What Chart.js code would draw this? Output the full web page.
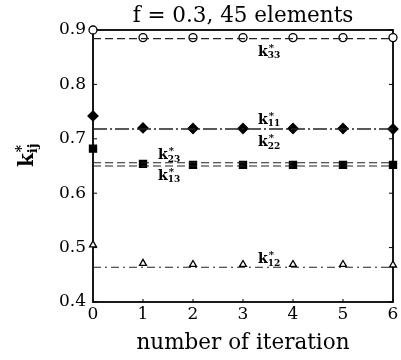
<!DOCTYPE html>
<html><head><meta charset="utf-8">
<script src="https://cdn.jsdelivr.net/npm/chart.js@4.4.1/dist/chart.umd.min.js"></script>
<style>html,body{margin:0;padding:0;background:#fff}#wrap{width:401px;height:360px}</style>
</head><body><div id="wrap"><canvas id="c" width="401" height="360"></canvas></div>
<script>
// ---- data ----
const iterations = [0, 1, 2, 3, 4, 5, 6];
const k33 = [0.900, 0.886, 0.886, 0.886, 0.886, 0.886, 0.886];
const k11 = [0.742, 0.720, 0.719, 0.719, 0.719, 0.719, 0.718];
const k23 = [0.682, 0.654, 0.652, 0.652, 0.652, 0.652, 0.652];
const k12 = [0.505, 0.471, 0.469, 0.469, 0.469, 0.469, 0.468];
// converged (reference) values drawn as horizontal lines
const k33Final = [0.884, 0.884, 0.884, 0.884, 0.884, 0.884, 0.884];
const k11Final = [0.718, 0.718, 0.718, 0.718, 0.718, 0.718, 0.718];
const k23Final = [0.656, 0.656, 0.656, 0.656, 0.656, 0.656, 0.656];
const k13Final = [0.650, 0.650, 0.650, 0.650, 0.650, 0.650, 0.650];
const k12Final = [0.464, 0.464, 0.464, 0.464, 0.464, 0.464, 0.464];
const yTicks = [0.4, 0.5, 0.6, 0.7, 0.8, 0.9];
const xTicks = [0, 1, 2, 3, 4, 5, 6];
const titleText = "f = 0.3, 45 elements";
const xTitle = "number of iteration";
// curve labels: [subscript, x, y]
const curveLabels = [["33", 3.3, 0.853], ["11", 3.3, 0.728], ["22", 3.3, 0.687],
                     ["23", 1.3, 0.663], ["13", 1.3, 0.625], ["12", 3.3, 0.471]];

const SERIF = '"DejaVu Serif", "Liberation Serif", serif';
const pts = a => a.map((v, i) => ({x: iterations[i], y: v}));
const markerDs = (data, style, filled, r) => ({
  data: pts(data), showLine: false, pointStyle: style, pointRadius: r,
  pointBorderColor: '#000', pointBorderWidth: 1.3, clip: false,
  pointBackgroundColor: filled ? '#000' : '#fff', borderColor: '#000'
});
const lineDs = (data, dash, w) => ({
  data: pts(data), showLine: true, pointRadius: 0, borderColor: '#222',
  borderWidth: w, borderDash: dash, fill: false
});

function drawK(ctx, x, y, sub, size) {
  ctx.fillStyle = '#000';
  ctx.textAlign = 'left'; ctx.textBaseline = 'alphabetic';
  ctx.font = 'bold ' + size + 'px ' + SERIF;
  ctx.fillText('k', x, y);
  const w = ctx.measureText('k').width;
  ctx.font = 'bold ' + Math.round(size * 0.7) + 'px ' + SERIF;
  ctx.fillText('*', x + w + 1, y - size * 0.35);
  ctx.font = 'bold ' + Math.round(size * 0.64) + 'px ' + SERIF;
  ctx.fillText(sub, x + w, y + size * 0.2);
}

const frame = {
  id: 'frame',
  beforeDatasetsDraw(chart) {
    const ctx = chart.ctx, a = chart.chartArea;
    const xs = chart.scales.x, ys = chart.scales.y;
    ctx.save();
    ctx.strokeStyle = '#000'; ctx.lineWidth = 1.8;
    ctx.strokeRect(a.left, a.top, a.right - a.left, a.bottom - a.top);
    ctx.lineWidth = 1;
    yTicks.forEach(v => {
      const p = ys.getPixelForValue(v);
      ctx.beginPath(); ctx.moveTo(a.left, p); ctx.lineTo(a.left + 4, p);
      ctx.moveTo(a.right, p); ctx.lineTo(a.right - 4, p); ctx.stroke();
    });
    xTicks.forEach(v => {
      const p = xs.getPixelForValue(v);
      ctx.beginPath(); ctx.moveTo(p, a.bottom); ctx.lineTo(p, a.bottom - 3); ctx.stroke();
    });
    ctx.restore();
  },
  afterDatasetsDraw(chart) {
    const ctx = chart.ctx, a = chart.chartArea;
    const xs = chart.scales.x, ys = chart.scales.y;
    ctx.save();
    curveLabels.forEach(([s, x, y]) => drawK(ctx, xs.getPixelForValue(x), ys.getPixelForValue(y), s, 14));
    ctx.fillStyle = '#000'; ctx.font = '21.5px ' + SERIF;
    ctx.textAlign = 'center'; ctx.textBaseline = 'alphabetic';
    ctx.fillText(titleText, (a.left + a.right) / 2, 22);
    ctx.translate(33, 157); ctx.rotate(-Math.PI / 2);
    drawK(ctx, -10, 0, 'ij', 20);
    ctx.restore();
  }
};

new Chart(document.getElementById('c'), {
  type: 'scatter',
  data: { datasets: [
    lineDs(k33Final, [8, 4], 1.2),
    lineDs(k11Final, [14, 3, 2, 3], 1.3),
    lineDs(k23Final, [8, 4], 1.2),
    lineDs(k13Final, [8, 4], 1.2),
    lineDs(k12Final, [8, 4, 2, 4], 1.1),
    markerDs(k33, 'circle', false, 4),
    markerDs(k11, 'rectRot', true, 5),
    markerDs(k23, 'rect', true, 5),
    markerDs(k12, 'triangle', false, 4)
  ]},
  options: {
    responsive: false, animation: false, devicePixelRatio: 1,
    layout: { padding: { top: 30, right: 8, left: 0, bottom: 0 } },
    plugins: { legend: { display: false }, tooltip: { enabled: false } },
    scales: {
      x: { type: 'linear', min: 0, max: 6,
        afterBuildTicks: s => { s.ticks = xTicks.map(v => ({value: v})); },
        afterFit: s => { s.height = 58; },
        grid: { display: false, drawTicks: false }, border: { display: false },
        ticks: { color: '#000', font: { family: SERIF, size: 17 }, padding: 2, maxRotation: 0 },
        title: { display: true, text: xTitle, color: '#000', font: { family: SERIF, size: 21.5 }, padding: { top: 5 } } },
      y: { type: 'linear', min: 0.4, max: 0.9,
        afterBuildTicks: s => { s.ticks = yTicks.map(v => ({value: v})); },
        afterFit: s => { s.width = 93; },
        grid: { display: false, drawTicks: false }, border: { display: false },
        ticks: { color: '#000', font: { family: SERIF, size: 17 }, padding: 7, callback: v => v.toFixed(1) } }
    }
  },
  plugins: [frame]
});
</script></body></html>
